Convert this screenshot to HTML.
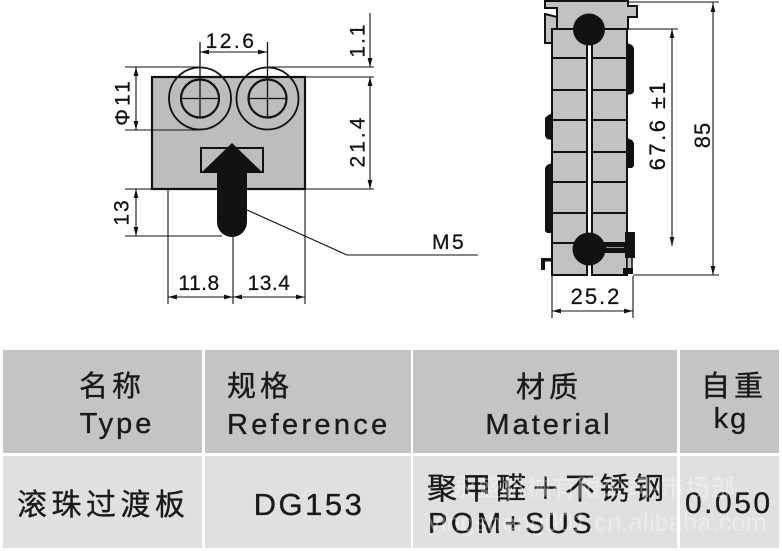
<!DOCTYPE html>
<html>
<head>
<meta charset="utf-8">
<style>
  html,body{margin:0;padding:0;background:#fff;}
  svg{display:block;}
</style>
</head>
<body>
<svg width="782" height="551" viewBox="0 0 782 551" xmlns="http://www.w3.org/2000/svg" font-family="'Liberation Sans', Arial, sans-serif">
  <rect x="0" y="0" width="782" height="551" fill="#fff"/>

  <!-- ================= LEFT DRAWING ================= -->
  <rect x="152" y="77" width="153" height="112" fill="#bdbdbd" stroke="#111" stroke-width="2.2"/>

  <g fill="none" stroke="#111">
    <circle cx="200" cy="98.5" r="31" stroke-width="1.8"/>
    <circle cx="200" cy="98.5" r="19" stroke-width="2.2"/>
    <circle cx="267.5" cy="98.5" r="31" stroke-width="1.8"/>
    <circle cx="267.5" cy="98.5" r="19" stroke-width="2.2"/>
  </g>
  <g stroke="#111" stroke-width="1.3">
    <line x1="181" y1="98.5" x2="219" y2="98.5"/>
    <line x1="200" y1="42" x2="200" y2="117.5"/>
    <line x1="248.5" y1="98.5" x2="286.5" y2="98.5"/>
    <line x1="267.5" y1="42" x2="267.5" y2="117.5"/>
  </g>

  <rect x="201" y="148" width="62" height="24" fill="#bdbdbd" stroke="#111" stroke-width="2"/>
  <polygon points="232,143 202,172 262,172" fill="#111"/>
  <path d="M217,171 V222 A15,15 0 0 0 247,222 V171 Z" fill="#111"/>

  <g stroke="#111" stroke-width="1.1">
    <line x1="125" y1="67" x2="200" y2="67"/>
    <line x1="125" y1="130" x2="200" y2="130"/>
    <line x1="267" y1="67" x2="374" y2="67"/>
    <line x1="305" y1="77" x2="374" y2="77"/>
    <line x1="305" y1="189" x2="374" y2="189"/>
    <line x1="125" y1="189" x2="152" y2="189"/>
    <line x1="125" y1="236" x2="222" y2="236"/>
    <line x1="168" y1="190" x2="168" y2="304"/>
    <line x1="233" y1="237" x2="233" y2="304"/>
    <line x1="305" y1="190" x2="305" y2="304"/>
    <line x1="200" y1="52" x2="267" y2="52"/>
    <line x1="136" y1="67" x2="136" y2="130"/>
    <line x1="370" y1="13" x2="370" y2="67"/>
    <line x1="370" y1="77" x2="370" y2="189"/>
    <line x1="136" y1="189" x2="136" y2="236"/>
    <line x1="168" y1="297" x2="305" y2="297"/>
    <polyline points="247,210 347,255 478,255" fill="none"/>
  </g>

  <g fill="#111">
    <polygon points="200,52 209,49.6 209,54.4"/>
    <polygon points="267,52 258,49.6 258,54.4"/>
    <polygon points="136,67 133.6,76 138.4,76"/>
    <polygon points="136,130 133.6,121 138.4,121"/>
    <polygon points="370,67 367.6,58 372.4,58"/>
    <polygon points="370,77 367.6,86 372.4,86"/>
    <polygon points="370,189 367.6,180 372.4,180"/>
    <polygon points="136,189 133.6,198 138.4,198"/>
    <polygon points="136,236 133.6,227 138.4,227"/>
    <polygon points="168,297 177,294.6 177,299.4"/>
    <polygon points="233,297 224,294.6 224,299.4"/>
    <polygon points="233,297 242,294.6 242,299.4"/>
    <polygon points="305,297 296,294.6 296,299.4"/>
  </g>

  <g fill="#111" stroke="#111" stroke-width="0.25" font-size="21">
    <text x="231" y="48" text-anchor="middle" letter-spacing="2.5">12.6</text>
    <text x="199" y="290" text-anchor="middle" letter-spacing="0.5">11.8</text>
    <text x="269" y="290" text-anchor="middle" letter-spacing="0.5">13.4</text>
    <text x="432" y="249" letter-spacing="2.5">M5</text>
    <text transform="translate(122,102) rotate(-90)" y="7.5" text-anchor="middle" letter-spacing="3">Φ11</text>
    <text transform="translate(121,212) rotate(-90)" y="7.5" text-anchor="middle" letter-spacing="2">13</text>
    <text transform="translate(357,40) rotate(-90)" y="7.5" text-anchor="middle" letter-spacing="2">1.1</text>
    <text transform="translate(357,141) rotate(-90)" y="7.5" text-anchor="middle" letter-spacing="3">21.4</text>
  </g>

  <!-- ================= RIGHT DRAWING ================= -->
  <g fill="#111">
    <polygon points="552,113 547,116 545,118 545,136 547,139 552,140"/>
    <polygon points="552,163 547,165 545,168 545,231 547,233 552,233"/>
    <polygon points="627,43 632,45 634,48 634,92 632,94 627,95"/>
    <polygon points="627,138 632,140 634,143 634,166 632,168 627,168"/>
  </g>

  <g fill="#c2c2c2" stroke="#111" stroke-width="2" stroke-linejoin="miter">
    <polygon points="545,1 628,1 628,6 637,6 637,17 628,17 628,29 557,29 557,8 545,8"/>
    <polygon points="545,14 557,17 557,29 552,29 552,43 545,43"/>
  </g>

  <g fill="#c2c2c2" stroke="#111" stroke-width="2">
    <rect x="552" y="29" width="35" height="246"/>
    <rect x="592" y="29" width="35" height="246"/>
  </g>
  <g stroke="#111" stroke-width="2">
    <line x1="552" y1="58" x2="587" y2="58"/><line x1="592" y1="58" x2="627" y2="58"/>
    <line x1="552" y1="90" x2="587" y2="90"/><line x1="592" y1="90" x2="627" y2="90"/>
    <line x1="552" y1="120" x2="587" y2="120"/><line x1="592" y1="120" x2="627" y2="120"/>
    <line x1="552" y1="152" x2="587" y2="152"/><line x1="592" y1="152" x2="627" y2="152"/>
    <line x1="552" y1="182" x2="587" y2="182"/><line x1="592" y1="182" x2="627" y2="182"/>
    <line x1="552" y1="213" x2="587" y2="213"/><line x1="592" y1="213" x2="627" y2="213"/>
    <line x1="552" y1="243" x2="587" y2="243"/><line x1="592" y1="243" x2="627" y2="243"/>
  </g>

  <rect x="627" y="256" width="5" height="13" fill="#c2c2c2" stroke="#111" stroke-width="1.5"/>
  <rect x="623" y="268" width="10" height="6" fill="#111"/>

  <circle cx="589" cy="29.5" r="16" fill="#111"/>
  <circle cx="589" cy="249" r="16.5" fill="#111"/>
  <rect x="598" y="244" width="28" height="9" fill="#111"/>
  <line x1="606" y1="247.5" x2="624" y2="247.5" stroke="#bbb" stroke-width="0.8"/>
  <rect x="625" y="232" width="10" height="26" fill="#111"/>

  <path d="M541,270 V258 H552 V261.5 H545 V270 Z" fill="#111"/>

  <g stroke="#111" stroke-width="1.1">
    <line x1="629" y1="2" x2="719" y2="2"/>
    <line x1="629" y1="29" x2="678" y2="29"/>
    <line x1="633" y1="275" x2="719" y2="275"/>
    <line x1="713" y1="2" x2="713" y2="275"/>
    <line x1="672" y1="29" x2="672" y2="246"/>
    <line x1="552" y1="276" x2="552" y2="318"/>
    <line x1="633" y1="276" x2="633" y2="318"/>
    <line x1="552" y1="311" x2="633" y2="311"/>
  </g>
  <g fill="#111">
    <polygon points="713,3 710.6,12 715.4,12"/>
    <polygon points="713,275 710.6,266 715.4,266"/>
    <polygon points="672,29 669.6,38 674.4,38"/>
    <polygon points="672,246 669.6,237 674.4,237"/>
    <polygon points="552,311 561,308.6 561,313.4"/>
    <polygon points="633,311 624,308.6 624,313.4"/>
  </g>
  <g fill="#111" stroke="#111" stroke-width="0.25" font-size="22">
    <text x="596" y="304" text-anchor="middle" letter-spacing="2">25.2</text>
    <text transform="translate(702,135) rotate(-90)" y="8" text-anchor="middle" letter-spacing="1">85</text>
    <text transform="translate(657,125) rotate(-90)" y="8" text-anchor="middle" letter-spacing="2.5">67.6 ±1</text>
  </g>

  <!-- ================= TABLE ================= -->
  <g fill="#c4c4c4">
    <rect x="3" y="350" width="199" height="103"/>
    <rect x="205" y="350" width="206" height="103"/>
    <rect x="413" y="350" width="264" height="103"/>
    <rect x="680" y="350" width="99" height="103"/>
  </g>
  <g fill="#e0e0e0">
    <rect x="3" y="456" width="199" height="92"/>
    <rect x="205" y="456" width="206" height="92"/>
    <rect x="413" y="456" width="264" height="92"/>
    <rect x="680" y="456" width="99" height="92"/>
  </g>

  <g fill="#1a1a1a" stroke="#1a1a1a" stroke-width="0.35" font-family="'Liberation Sans', 'Noto Sans CJK SC', sans-serif">
    <text x="112" y="396" font-size="29" text-anchor="middle" letter-spacing="4">名称</text>
    <text x="117" y="433" font-size="29" text-anchor="middle" letter-spacing="3">Type</text>
    <text x="227" y="396" font-size="29" letter-spacing="4">规格</text>
    <text x="227" y="434" font-size="29" letter-spacing="3.3">Reference</text>
    <text x="549" y="397" font-size="29" text-anchor="middle" letter-spacing="4">材质</text>
    <text x="549" y="434" font-size="29" text-anchor="middle" letter-spacing="3">Material</text>
    <text x="734" y="396" font-size="29" text-anchor="middle" letter-spacing="4">自重</text>
    <text x="731" y="428" font-size="29" text-anchor="middle" letter-spacing="2">kg</text>
    <text x="17" y="515" font-size="30" letter-spacing="4.5">滚珠过渡板</text>
    <text x="309" y="515" font-size="31" text-anchor="middle" letter-spacing="2.5">DG153</text>
    <text x="427" y="499" font-size="30" letter-spacing="4.5">聚甲醛＋不锈钢</text>
    <text x="428" y="533" font-size="29" letter-spacing="3.5">POM+SUS</text>
    <text x="685" y="513" font-size="30" letter-spacing="2.5">0.050</text>
  </g>

  <!-- faint watermark -->
  <g fill="#ffffff" fill-opacity="0.35" font-family="'Liberation Sans', 'Noto Sans CJK SC', sans-serif">
    <text x="452" y="496" font-size="24" letter-spacing="1">永盛机械有限公司-市场部</text>
    <text x="428" y="531" font-size="25" letter-spacing="0.3">yingsheng001.cn.alibaba.com</text>
  </g>
</svg>
</body>
</html>
